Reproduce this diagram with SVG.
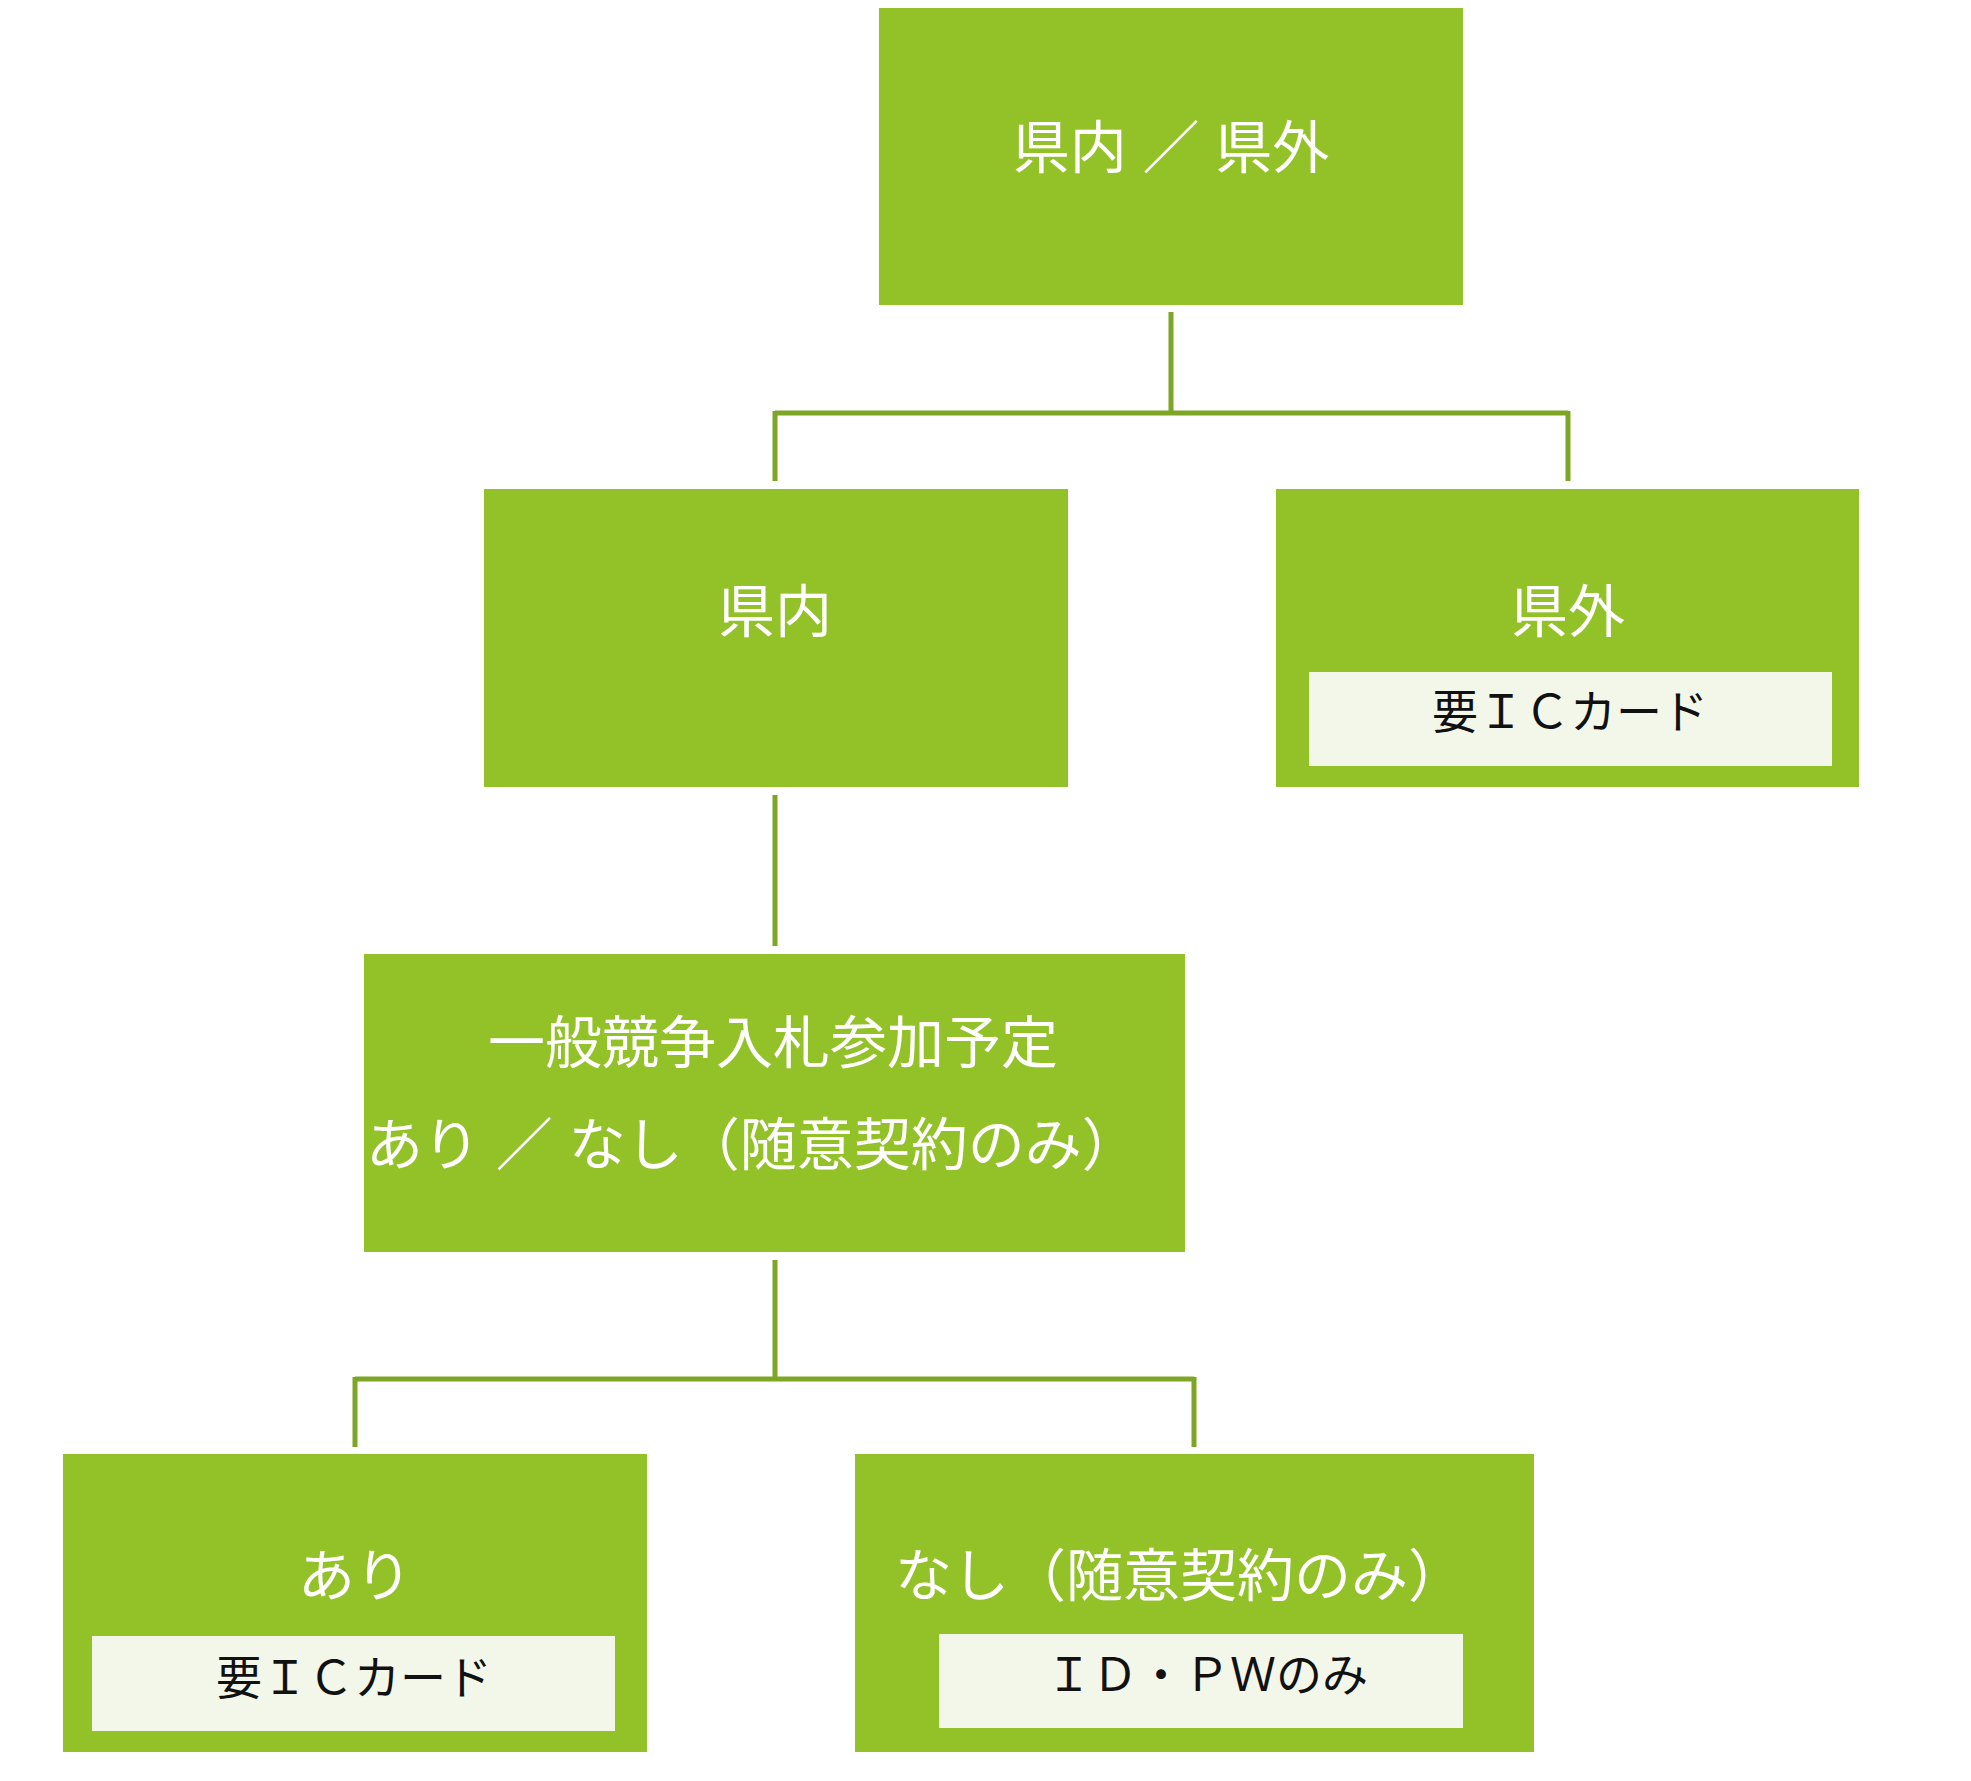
<svg xmlns="http://www.w3.org/2000/svg" width="1971" height="1781" viewBox="0 0 1971 1781">
<style>
.box{fill:#92C227}
.inner{fill:#F3F7E9}
.t{font-family:"Liberation Sans","Noto Sans CJK JP",sans-serif;font-size:57px;fill:#fff;text-anchor:middle}
.s{font-family:"Liberation Sans","Noto Sans CJK JP",sans-serif;font-size:46px;fill:#111;text-anchor:middle}
.c{stroke:#7EA626;stroke-width:5;fill:none}
</style>
<rect width="1971" height="1781" fill="#fff"/>
<g id="connectors" class="c">
<path d="M1171 312V413M775 413H1568M775 411V481M1568 411V481"/>
<path d="M775 795V946"/>
<path d="M775 1260V1379M355 1379H1194M355 1377V1447M1194 1377V1447"/>
</g>
<g id="top"><rect class="box" x="879" y="8" width="584" height="297"/><text class="t" x="1171" y="168">県内 ／ 県外</text></g>
<g id="kennai"><rect class="box" x="484" y="489" width="584" height="298"/><text class="t" x="775" y="632">県内</text></g>
<g id="kengai"><rect class="box" x="1276" y="489" width="583" height="298"/><text class="t" x="1568" y="632">県外</text><rect class="inner" x="1309" y="672" width="523" height="94"/><text class="s" x="1570" y="728">要ＩＣカード</text></g>
<g id="ippan"><rect class="box" x="364" y="954" width="821" height="298"/><text class="t" x="773" y="1063">一般競争入札参加予定</text><text class="t" x="366" y="1165" text-anchor="start" style="text-anchor:start">あり ／ なし（随意契約のみ）</text></g>
<g id="ari"><rect class="box" x="63" y="1454" width="584" height="298"/><text class="t" x="355" y="1596">あり</text><rect class="inner" x="92" y="1636" width="523" height="95"/><text class="s" x="354" y="1694">要ＩＣカード</text></g>
<g id="nashi"><rect class="box" x="855" y="1454" width="679" height="298"/><text class="t" x="1180" y="1596">なし（随意契約のみ）</text><rect class="inner" x="939" y="1634" width="524" height="94"/><text class="s" x="1207" y="1691">ＩＤ・ＰＷのみ</text></g>
</svg>
